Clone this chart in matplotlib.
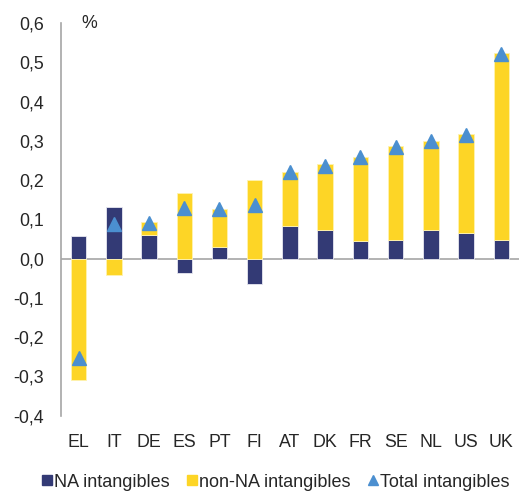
"""
intangibles contribution chart
out: out.png
"""

import numpy as np
import matplotlib.pyplot as plt
from matplotlib.ticker import FuncFormatter
from matplotlib.lines import Line2D

countries = ["EL", "IT", "DE", "ES", "PT", "FI", "AT", "DK", "FR", "SE", "NL", "US", "UK"]
na_intangibles = [0.058, 0.131, 0.061, -0.037, 0.031, -0.065, 0.082, 0.074, 0.044, 0.048, 0.074, 0.066, 0.048]
non_na_intangibles = [-0.31, -0.042, 0.032, 0.167, 0.096, 0.200, 0.140, 0.166, 0.216, 0.238, 0.225, 0.251, 0.477]
total_intangibles = [-0.254, 0.089, 0.090, 0.128, 0.127, 0.137, 0.220, 0.237, 0.258, 0.284, 0.299, 0.314, 0.522]
yticks = [-0.4, -0.3, -0.2, -0.1, 0.0, 0.1, 0.2, 0.3, 0.4, 0.5, 0.6]

navy = "#333a75"
yellow = "#fdd526"
blue = "#4b8fd0"
grey = "#a6a6a6"

plt.rcParams['font.family'] = ['Liberation Sans', 'DejaVu Sans']

fig = plt.figure(figsize=(5.21, 4.92), dpi=100)
ax = fig.add_axes([0.117, 0.155, 0.879, 0.798])

x = np.arange(len(countries))
na = np.array(na_intangibles)
nn = np.array(non_na_intangibles)
w = 0.44

# stack positives on positives, negatives on negatives
na_base = np.zeros(len(x))
nn_base = np.where((np.sign(nn) == np.sign(na)), na, 0.0)

ax.bar(x, na, w, bottom=na_base, color=navy, edgecolor="#e8e8f0", linewidth=0.6, zorder=2)
ax.bar(x, nn, w, bottom=nn_base, color=yellow, edgecolor="#fff3b0", linewidth=0.6, zorder=2)
ax.plot(x, total_intangibles, linestyle="none", marker="^", markersize=9.5,
        color=blue, zorder=3)

ax.axhline(0, color=grey, linewidth=1.2, zorder=1)

ax.set_xlim(-0.5, len(countries) - 0.5)
ax.set_ylim(-0.4, 0.6)
ax.set_yticks(yticks)
ax.yaxis.set_major_formatter(FuncFormatter(lambda v, p: ("%.1f" % v).replace(".", ",")))
ax.set_xticks(x)
ax.set_xticklabels(countries)

for s in ["top", "right", "bottom"]:
    ax.spines[s].set_visible(False)
ax.spines["left"].set_color(grey)
ax.spines["left"].set_linewidth(1.2)
ax.tick_params(axis="both", length=0, labelsize=12.8, colors="#262626")
ax.tick_params(axis="x", pad=13)
ax.tick_params(axis="y", pad=12)

ax.text(0.3, 0.6, "%", fontsize=12.8, color="#262626", ha="center", va="center")

handles = [
    Line2D([], [], linestyle="none", marker="s", markersize=7, color=navy),
    Line2D([], [], linestyle="none", marker="s", markersize=7, color=yellow),
    Line2D([], [], linestyle="none", marker="^", markersize=6.5, color=blue),
]
fig.legend(handles, ["NA intangibles", "non-NA intangibles", "Total intangibles"],
           loc="center", bbox_to_anchor=(0.528, 0.02), ncol=3, frameon=False,
           fontsize=13, handletextpad=0.05, columnspacing=0.9, handlelength=0.7,
           labelcolor="#262626")

plt.savefig("out.png", dpi=100)
